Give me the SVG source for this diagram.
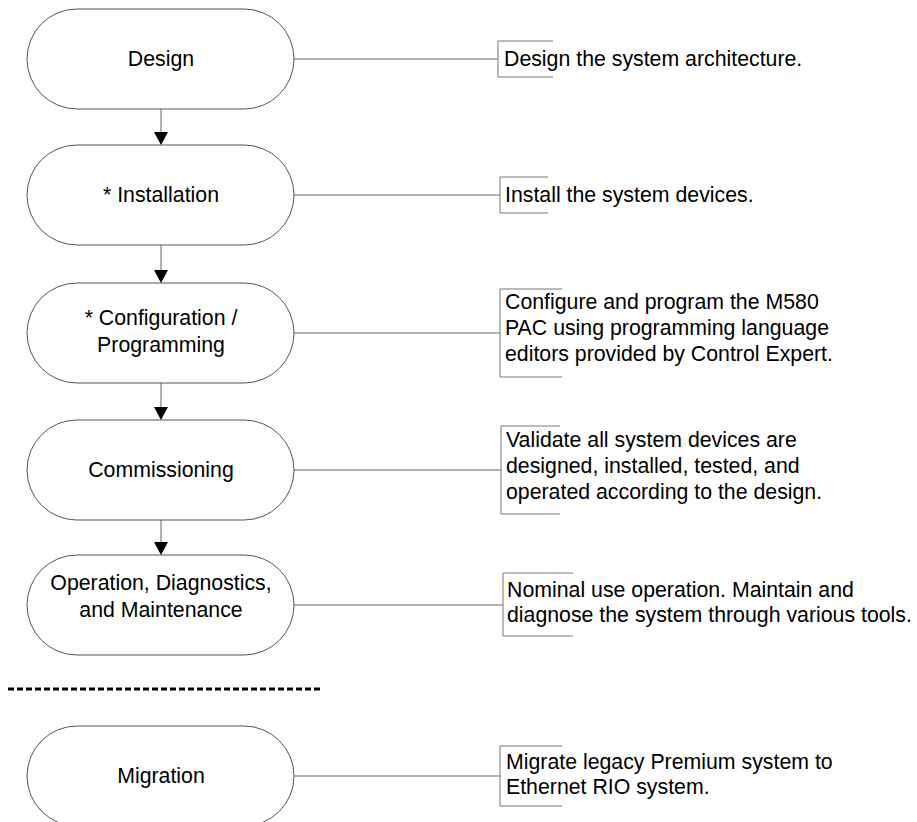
<svg xmlns="http://www.w3.org/2000/svg" width="917" height="822" viewBox="0 0 917 822">
<style>
.node{fill:#fff;stroke:#555;stroke-width:1}
.lbl{font-family:"Liberation Sans",Arial,sans-serif;font-size:21.3px;fill:#000;text-anchor:middle}
.desc{font-family:"Liberation Sans",Arial,sans-serif;font-size:21.3px;fill:#000}
.con{stroke:#666;stroke-width:1;fill:none}
.brk{stroke:#777;stroke-width:1;fill:none}
.flow{stroke:#999;stroke-width:1.5;fill:none}
.head{fill:#000}
</style>
<rect width="917" height="822" fill="#fff"/>
<g id="connectors">
<line class="con" x1="294" y1="59" x2="498" y2="59"/>
<line class="con" x1="294" y1="195" x2="500" y2="195"/>
<line class="con" x1="294" y1="333" x2="500" y2="333"/>
<line class="con" x1="294" y1="470" x2="501" y2="470"/>
<line class="con" x1="294" y1="605" x2="503" y2="605"/>
<line class="con" x1="294" y1="776" x2="500" y2="776"/>
<path class="brk" d="M553,41 H498 V77 H553"/>
<path class="brk" d="M548,177 H500 V213 H548"/>
<path class="brk" d="M562,289 H500 V377 H562"/>
<path class="brk" d="M560,426 H501 V514 H560"/>
<path class="brk" d="M573,573 H503 V636 H573"/>
<path class="brk" d="M562,746 H500 V806 H562"/>
<line class="flow" x1="161" y1="109" x2="161" y2="134"/>
<polygon class="head" points="154,132 168,132 161,145"/>
<line class="flow" x1="161" y1="245" x2="161" y2="272"/>
<polygon class="head" points="154,270 168,270 161,283"/>
<line class="flow" x1="161" y1="383" x2="161" y2="409"/>
<polygon class="head" points="154,407 168,407 161,420"/>
<line class="flow" x1="161" y1="520" x2="161" y2="544"/>
<polygon class="head" points="154,542 168,542 161,555"/>
<line x1="8" y1="689" x2="323" y2="689" stroke="#000" stroke-width="3" stroke-dasharray="6 3"/>
</g>
<g id="n-design">
<rect class="node" x="27" y="9" width="267" height="100" rx="50"/>
<text class="lbl" x="161" y="66">Design</text>
</g>
<g id="n-install">
<rect class="node" x="27" y="145" width="267" height="100" rx="50"/>
<text class="lbl" x="161" y="202">* Installation</text>
</g>
<g id="n-config">
<rect class="node" x="27" y="283" width="267" height="100" rx="50"/>
<text class="lbl" x="161" y="325">* Configuration /</text>
<text class="lbl" x="161" y="352">Programming</text>
</g>
<g id="n-commission">
<rect class="node" x="27" y="420" width="267" height="100" rx="50"/>
<text class="lbl" x="161" y="477">Commissioning</text>
</g>
<g id="n-operation">
<rect class="node" x="27" y="555" width="267" height="100" rx="50"/>
<text class="lbl" x="161" y="590">Operation, Diagnostics,</text>
<text class="lbl" x="161" y="617">and Maintenance</text>
</g>
<g id="n-migration">
<rect class="node" x="27" y="726" width="267" height="100" rx="50"/>
<text class="lbl" x="161" y="783">Migration</text>
</g>
<g id="d-design"><text class="desc" x="504" y="66">Design the system architecture.</text></g>
<g id="d-install"><text class="desc" x="505" y="202">Install the system devices.</text></g>
<g id="d-config">
<text class="desc" x="505" y="309">Configure and program the M580</text>
<text class="desc" x="505" y="335">PAC using programming language</text>
<text class="desc" x="505" y="361">editors provided by Control Expert.</text>
</g>
<g id="d-commission">
<text class="desc" x="506" y="447">Validate all system devices are</text>
<text class="desc" x="506" y="473">designed, installed, tested, and</text>
<text class="desc" x="506" y="499">operated according to the design.</text>
</g>
<g id="d-operation">
<text class="desc" x="507" y="597">Nominal use operation. Maintain and</text>
<text class="desc" x="507" y="622">diagnose the system through various tools.</text>
</g>
<g id="d-migration">
<text class="desc" x="506" y="769">Migrate legacy Premium system to</text>
<text class="desc" x="506" y="794">Ethernet RIO system.</text>
</g>
</svg>
